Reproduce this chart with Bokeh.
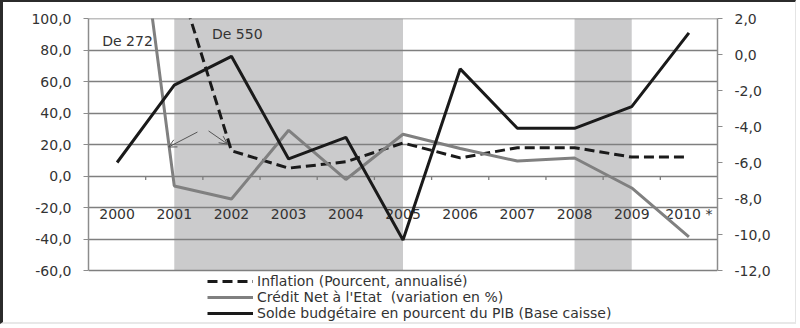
from bokeh.plotting import figure
from bokeh.models import (Range1d, LinearAxis, FixedTicker, CustomJSTickFormatter,
                          BoxAnnotation, Arrow, OpenHead, Legend, LegendItem)
from bokeh.core.properties import value
from bokeh.embed import file_html
from bokeh.resources import INLINE
import numpy as np

years = ["2000", "2001", "2002", "2003", "2004", "2005", "2006", "2007", "2008", "2009", "2010 *"]
inflation = [np.nan, 133.0, 16.0, 5.0, 9.0, 21.0, 11.5, 18.0, 18.0, 12.0, 12.0]
credit = [272.0, -6.3, -14.6, 29.0, -2.2, 26.5, 17.5, 9.5, 11.4, -7.6, -38.7]
solde = [-6.0, -1.7, -0.1, -5.8, -4.6, -10.3, -0.8, -4.1, -4.1, -2.9, 1.2]
left_ticks = [-60, -40, -20, 0, 20, 40, 60, 80, 100]
right_ticks = [-12, -10, -8, -6, -4, -2, 0, 2]
shaded = [("2001", "2005"), ("2008", "2009")]
notes = [("De 272", -0.26, 86.0), ("De 550", 1.66, 90.0)]
series_names = ["Inflation (Pourcent, annualisé)",
                "Crédit Net à l'Etat  (variation en %)",
                "Solde budgétaire en pourcent du PIB (Base caisse)"]

FONT = "DejaVu Sans"
TXT = "#333333"
n = len(years)
xs = list(range(n))

PLOT_H, EXTRA = 252, 56
lspan = left_ticks[-1] - left_ticks[0]
rspan = right_ticks[-1] - right_ticks[0]
left_start = left_ticks[0] - EXTRA / PLOT_H * lspan
right_start = right_ticks[0] - EXTRA / PLOT_H * rspan

p = figure(width=796, height=324, output_backend="svg", toolbar_location=None,
           x_range=Range1d(-0.5, n - 0.5), y_range=Range1d(left_start, left_ticks[-1]),
           min_border_left=85, min_border_right=82, min_border_top=16, min_border_bottom=0,
           styles={"border-top": "2px solid #2b2b2b", "border-left": "3px solid #2b2b2b",
                   "border-right": "1px solid #e4e4e4", "border-bottom": "2px solid #e8e8e8"})
p.extra_y_ranges = {"right": Range1d(right_start, right_ticks[-1])}
p.outline_line_color = None
p.background_fill_color = "white"
p.border_fill_color = "white"
p.xaxis.visible = False
p.xgrid.visible = False
p.ygrid.visible = False

fmt = CustomJSTickFormatter(code="return tick.toFixed(1).replace('.', ',');")
for ax in p.yaxis:
    ax.ticker = FixedTicker(ticks=left_ticks)
    ax.formatter = fmt
    ax.bounds = (left_ticks[0], left_ticks[-1])
ra = LinearAxis(y_range_name="right", ticker=FixedTicker(ticks=right_ticks), formatter=fmt,
                bounds=(right_ticks[0], right_ticks[-1]))
p.add_layout(ra, "right")
for ax in [p.yaxis[0], ra]:
    ax.axis_line_color = "#8c8c8c"
    ax.axis_line_width = 1.5
    ax.major_tick_line_color = "#8c8c8c"
    ax.major_tick_out = 5
    ax.major_tick_in = 0
    ax.minor_tick_line_color = None
    ax.major_label_text_font = FONT
    ax.major_label_text_font_size = "14px"
    ax.major_label_text_color = TXT
    ax.major_label_standoff = 12

for a, b in shaded:
    p.add_layout(BoxAnnotation(left=years.index(a), right=years.index(b),
                               bottom=left_ticks[0], top=left_ticks[-1],
                               fill_color="#cbcbcc", fill_alpha=1, line_color=None, level="image"))

p.hspan(y=left_ticks, line_color="#7f7f7f", line_width=1.3)

bx = [i + 0.5 for i in range(n - 1)]
p.segment(x0=bx, y0=[0] * len(bx), x1=bx, y1=[-2.6] * len(bx), line_color="#7f7f7f", line_width=1.3)

p.text(x=xs, y=[-24] * n, text=years, text_font=value(FONT), text_font_size="14px",
       text_color=TXT, text_align="center", text_baseline="middle")

r_inf = p.line(xs, inflation, line_color="#1a1a1a", line_width=3, line_dash="10 5")
r_cre = p.line(xs, credit, line_color="#808080", line_width=3)
r_sol = p.line(xs, solde, line_color="#1a1a1a", line_width=3, y_range_name="right")

for t, x, y in notes:
    p.text(x=[x], y=[y], text=[t], text_font=value(FONT), text_font_size="14px",
           text_color=TXT, text_align="left", text_baseline="middle")

p.add_layout(Arrow(end=OpenHead(size=8, line_color="#555555", line_width=1),
                   x_start=1.405, y_start=27.9, x_end=0.9, y_end=18.4,
                   line_color="#555555", line_width=1))
p.add_layout(Arrow(end=OpenHead(size=8, line_color="#555555", line_width=1),
                   x_start=1.6, y_start=28.6, x_end=1.93, y_end=20.3,
                   line_color="#555555", line_width=1))

legend = Legend(items=[LegendItem(label=series_names[0], renderers=[r_inf]),
                       LegendItem(label=series_names[1], renderers=[r_cre]),
                       LegendItem(label=series_names[2], renderers=[r_sol])],
                location=(119, 5), orientation="vertical",
                background_fill_alpha=0, border_line_color=None,
                label_text_font=FONT, label_text_font_size="14px", label_text_color=TXT,
                glyph_width=46, glyph_height=16, label_height=16, spacing=0, padding=0,
                margin=0, label_standoff=4)
p.add_layout(legend, "center")

open("out.html", "w").write(file_html(p, INLINE))
